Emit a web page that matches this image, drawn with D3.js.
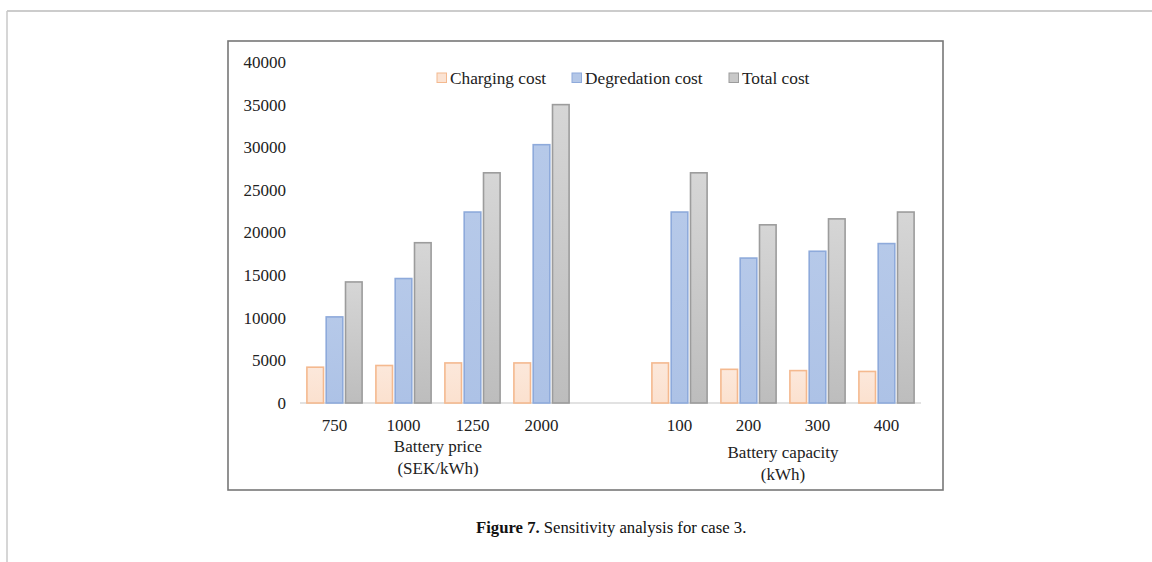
<!DOCTYPE html>
<html>
<head>
<meta charset="utf-8">
<script src="https://cdn.jsdelivr.net/npm/d3@7/dist/d3.min.js"></script>
<style>
  html, body { margin: 0; padding: 0; background: #fff; }
  svg { display: block; }
</style>
</head>
<body>
<div id="chart"></div>
<script>
// categories: "" is the empty slot separating the two groups
const categories = ["750", "1000", "1250", "2000", "", "100", "200", "300", "400"];
const seriesNames = ["Charging cost", "Degredation cost", "Total cost"];
const chargingCost = [4200, 4400, 4700, 4700, null, 4700, 3950, 3800, 3700];
const degradationCost = [10100, 14600, 22400, 30300, null, 22400, 17000, 17800, 18700];
const totalCost = [14200, 18800, 27000, 35000, null, 27000, 20900, 21600, 22400];
const yTicks = [0, 5000, 10000, 15000, 20000, 25000, 30000, 35000, 40000];
const groupLabels = [
  { lines: ["Battery price", "(SEK/kWh)"], from: "1000", to: "1250", dy: 0 },
  { lines: ["Battery capacity", "(kWh)"], from: "200", to: "300", dy: 6 }
];
const caption = { bold: "Figure 7.", rest: " Sensitivity analysis for case 3." };

const W = 1152, H = 562;
const frame = { x: 228, y: 41, w: 715, h: 449 };
const plot = { left: 300, right: 921, top: 62, bottom: 403 };
const serif = "'Liberation Serif', 'Times New Roman', serif";

const fills = ["url(#gCharge)", "url(#gDeg)", "url(#gTotal)"];
const strokes = ["#f4b98f", "#8eaadb", "#9c9c9c"];
const legendFills = ["#fbe3d3", "#b4c7e7", "#c8c8c8"];

const svg = d3.select("#chart").append("svg")
  .attr("width", W).attr("height", H);

const defs = svg.append("defs");
function grad(id, top, bottom) {
  const g = defs.append("linearGradient").attr("id", id)
    .attr("x1", 0).attr("y1", 0).attr("x2", 0).attr("y2", 1);
  g.append("stop").attr("offset", "0%").attr("stop-color", top);
  g.append("stop").attr("offset", "100%").attr("stop-color", bottom);
}
grad("gCharge", "#fce8db", "#fbe1cf");
grad("gDeg", "#b6c9e9", "#adc2e6");
grad("gTotal", "#d6d6d6", "#bdbdbd");

// page frame lines
svg.append("line").attr("x1", 7).attr("x2", W).attr("y1", 11).attr("y2", 11)
  .attr("stroke", "#9a9a9a").attr("stroke-width", 1.2);
svg.append("line").attr("x1", 7).attr("x2", 7).attr("y1", 11).attr("y2", H)
  .attr("stroke", "#c8c8c8").attr("stroke-width", 1.5);

// chart border
svg.append("rect")
  .attr("x", frame.x).attr("y", frame.y)
  .attr("width", frame.w).attr("height", frame.h)
  .attr("fill", "#fff").attr("stroke", "#777").attr("stroke-width", 1.6);

const x = d3.scaleBand().domain(categories)
  .range([plot.left, plot.right]).paddingInner(0.2).paddingOuter(0.1);
const xInner = d3.scaleBand().domain(seriesNames)
  .range([0, x.bandwidth()]).paddingInner(0.14);
const y = d3.scaleLinear().domain([0, 40000]).range([plot.bottom, plot.top]);

// y axis labels (no line)
const yAxis = svg.append("g")
  .attr("transform", `translate(${plot.left - 14},0)`)
  .call(d3.axisLeft(y).tickValues(yTicks).tickSize(0).tickPadding(0).tickFormat(d3.format("d")));
yAxis.select(".domain").remove();
yAxis.selectAll("text")
  .attr("font-family", serif).attr("font-size", 17).attr("fill", "#222");

// baseline
svg.append("line")
  .attr("x1", plot.left).attr("x2", plot.right)
  .attr("y1", y(0)).attr("y2", y(0))
  .attr("stroke", "#d9d9d9").attr("stroke-width", 1.5);

// x axis labels
const xAxis = svg.append("g")
  .attr("transform", `translate(0,${y(0)})`)
  .call(d3.axisBottom(x).tickSize(0).tickPadding(16));
xAxis.select(".domain").remove();
xAxis.selectAll("text")
  .attr("font-family", serif).attr("font-size", 17).attr("fill", "#222");

// bars
const series = [chargingCost, degradationCost, totalCost];
series.forEach((vals, si) => {
  svg.append("g").selectAll("rect")
    .data(categories.map((c, i) => ({ c, v: vals[i] })).filter(d => d.v != null))
    .join("rect")
    .attr("x", d => x(d.c) + xInner(seriesNames[si]))
    .attr("y", d => y(d.v))
    .attr("width", xInner.bandwidth())
    .attr("height", d => y(0) - y(d.v))
    .attr("fill", fills[si])
    .attr("stroke", strokes[si])
    .attr("stroke-width", 1.6);
});

// group titles
groupLabels.forEach(g => {
  const cx = (x(g.from) + x(g.to) + x.bandwidth()) / 2;
  const t = svg.append("text")
    .attr("x", cx).attr("y", 452 + g.dy)
    .attr("text-anchor", "middle")
    .attr("font-family", serif).attr("font-size", 17).attr("fill", "#222");
  g.lines.forEach((l, i) => {
    t.append("tspan").attr("x", cx).attr("dy", i === 0 ? 0 : 21.5).text(l);
  });
});

// legend
const legendX = [437, 572, 729];
const legend = svg.append("g");
seriesNames.forEach((name, i) => {
  const g = legend.append("g").attr("transform", `translate(${legendX[i]},73)`);
  g.append("rect").attr("width", 9.5).attr("height", 9.5)
    .attr("fill", legendFills[i]).attr("stroke", strokes[i]).attr("stroke-width", 1);
  g.append("text").attr("x", 13).attr("y", 10.5)
    .attr("font-family", serif).attr("font-size", 17.3).attr("fill", "#222")
    .text(name);
});

// caption
const cap = svg.append("text")
  .attr("x", 476).attr("y", 533)
  .attr("font-family", serif).attr("font-size", 16.7).attr("fill", "#111");
cap.append("tspan").attr("font-weight", "bold").text(caption.bold);
cap.append("tspan").text(caption.rest);
</script>
</body>
</html>
